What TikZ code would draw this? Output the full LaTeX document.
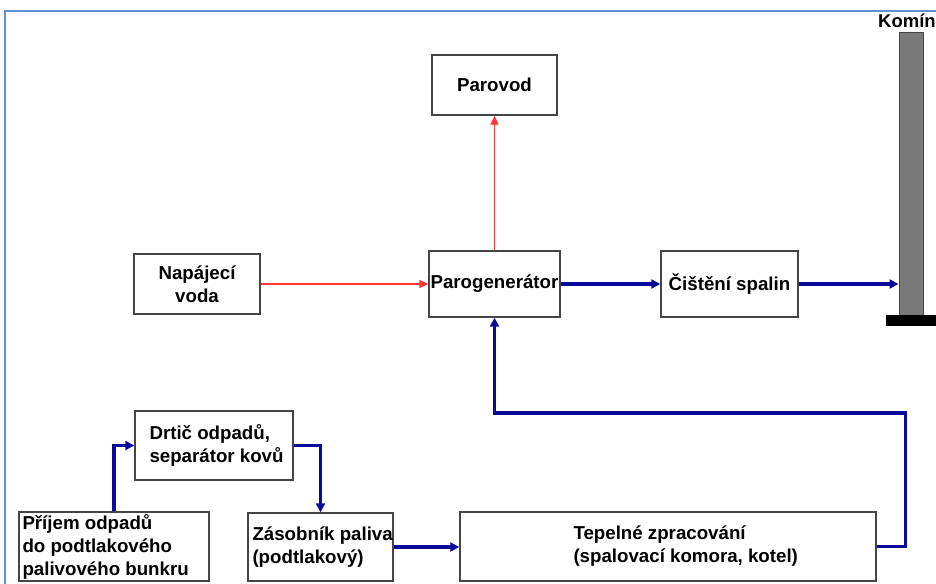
\documentclass[tikz,border=0pt]{standalone}
\usepackage{fontspec}
\setmainfont{Liberation Sans}
\usetikzlibrary{arrows.meta}
\definecolor{boxgray}{HTML}{454545}
\definecolor{navy}{HTML}{0A0A9A}
\definecolor{redline}{HTML}{FF3333}
\definecolor{frameblue}{HTML}{5B8FD8}
\tikzset{
  blk/.style={draw=boxgray, line width=1.4pt, fill=white, inner sep=0pt,
    font=\bfseries\fontsize{18.7}{23}\selectfont, align=center},
  lbl/.style={inner sep=0pt, anchor=west, font=\bfseries\fontsize{18.7}{23}\selectfont, align=left},
  bluearr/.style={draw=navy, line width=3.2pt, -{Triangle[length=9pt,width=9pt]}},
  redarr/.style={draw=redline, line width=1.6pt, -{Triangle[length=9pt,width=8pt]}}
}
\begin{document}
\begin{tikzpicture}[x=1pt,y=-1pt]
\useasboundingbox (0,0) rectangle (936,583);
\draw[frameblue, line width=1.8pt] (5,590) -- (5,11) -- (940,11);
% chimney
\node[draw=boxgray, fill=gray!95!black, line width=1pt, minimum width=24pt, minimum height=282pt, inner sep=0pt] (chim) at (911,174) {};
\fill[black] (886,315) rectangle (940,326);
\node[font=\bfseries\fontsize{18.5}{22}\selectfont, anchor=base west, inner sep=0pt] (komin) at (878,28) {Komín};
% boxes
\node[blk, minimum width=125pt, minimum height=60pt] (parovod) at (494.5,85) {Parovod};
\node[blk, minimum width=126pt, minimum height=60pt] (napaj) at (197,284) {Napájecí\\voda};
\node[blk, minimum width=131pt, minimum height=66pt] (parogen) at (494.5,284) {Parogenerátor};
\node[blk, minimum width=137pt, minimum height=66pt] (cist) at (729.5,284) {Čištění spalin};
\node[blk, minimum width=158pt, minimum height=69pt] (drtic) at (214,445.5) {};
\node[lbl] (drtict) at ([xshift=15pt]drtic.west) {Drtič odpadů,\\separátor kovů};
\node[blk, minimum width=190pt, minimum height=69pt] (prijem) at (114,546.5) {};
\node[lbl] (prijemt) at ([xshift=4pt]prijem.west) {Příjem odpadů\\do podtlakového\\palivového bunkru};
\node[blk, minimum width=145pt, minimum height=68pt] (zasob) at (320.5,547) {};
\node[lbl] (zasobt) at ([xshift=5pt]zasob.west) {Zásobník paliva\\(podtlakový)};
\node[blk, minimum width=416pt, minimum height=69pt] (tep) at (668,546.5) {};
\node[lbl] (tept) at ([xshift=114pt]tep.west) {Tepelné zpracování\\(spalovací komora, kotel)};
% arrows
\draw[redarr] (napaj.east) -- (napaj.east -| parogen.west);
\draw[redarr] (parogen.north) -- (parovod.south);
\draw[bluearr] (parogen.east) -- (cist.west);
\draw[bluearr] (cist.east) -- (chim.west |- cist.east);
\draw[bluearr] (tep.east) -- ++(29,0) |- (parogen.south |- 0,413) -- (parogen.south);
\draw[bluearr] (prijem.north) |- (drtic.west);
\draw[bluearr] (drtic.east) -| (zasob.north);
\draw[bluearr] (zasob.east) -- (zasob.east -| tep.west);
\end{tikzpicture}
\end{document}
